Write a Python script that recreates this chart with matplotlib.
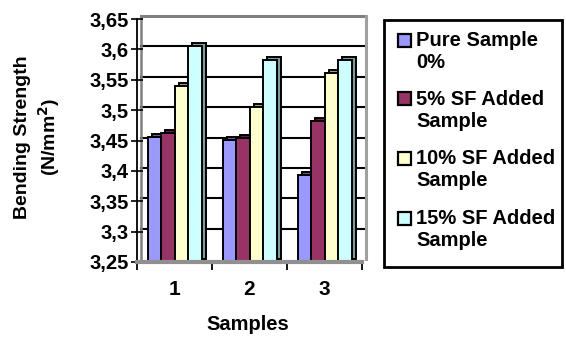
import matplotlib
matplotlib.use("Agg")
import matplotlib.pyplot as plt
import matplotlib.transforms as mtransforms
from matplotlib.patches import Rectangle
from matplotlib.colors import to_rgb
import numpy as np

# ---- data -------------------------------------------------------------
categories = ["1", "2", "3"]
series_labels = ["Pure Sample\n0%", "5% SF Added\nSample",
                 "10% SF Added\nSample", "15% SF Added\nSample"]
pure_0 = [3.455, 3.451, 3.393]
sf_5 = [3.463, 3.454, 3.482]
sf_10 = [3.539, 3.505, 3.561]
sf_15 = [3.605, 3.582, 3.582]
series_values = [pure_0, sf_5, sf_10, sf_15]
y_ticks = [3.25, 3.30, 3.35, 3.40, 3.45, 3.50, 3.55, 3.60, 3.65]
y_tick_labels = ["3,25", "3,3", "3,35", "3,4", "3,45", "3,5", "3,55", "3,6", "3,65"]

colors = ["#9999FF", "#993366", "#FFFFCC", "#CCFFFF"]

W, H = 566, 345
DPI = 100
plt.rcParams["font.family"] = ["Liberation Sans", "DejaVu Sans"]
plt.rcParams["font.weight"] = "bold"

fig = plt.figure(figsize=(W / DPI, H / DPI), dpi=DPI)


def px(x, y):
    """pixel position (top-left origin) -> figure fraction"""
    return x / W, 1 - y / H


# plot area: front axis from x=137 to 362, y=262 (3.25) to 19 (3.65)
ax_l, ax_r, ax_t, ax_b = 137, 362, 19, 262
ax = fig.add_axes([ax_l / W, 1 - ax_b / H, (ax_r - ax_l) / W, (ax_b - ax_t) / H])
ax.set_ylim(3.25, 3.65)
ax.set_xlim(-0.5, len(categories) - 0.5)

# back wall gridlines, shifted slightly up/right for depth
depth = mtransforms.ScaledTranslation(4 / DPI, 3 / DPI, fig.dpi_scale_trans)
for v in y_ticks[1:-1]:
    ax.plot([-0.5, 2.5], [v, v], color="black", lw=1.5,
            transform=ax.transData + depth, clip_on=False, zorder=1)
# wall edges
ax.plot([-0.5, -0.5], [3.25, 3.65], color="#808080", lw=1.8,
        transform=ax.transData + depth, clip_on=False, zorder=1)
ax.plot([-0.5, 2.5], [3.65, 3.65], color="#808080", lw=2.2,
        transform=ax.transData + depth, clip_on=False, zorder=1)
ax.plot([2.5, 2.5], [3.25, 3.65], color="#A0A0A0", lw=2.2,
        transform=ax.transData + depth, clip_on=False, zorder=1)

# bars with a darker offset copy for the side / top faces
x = np.arange(len(categories))
bw = 0.18
for i, (vals, c) in enumerate(zip(series_values, colors)):
    pos = x + (i - 1.5) * bw
    heights = np.array(vals) - 3.25
    dark = tuple(np.array(to_rgb(c)) * 0.62)
    ax.bar(pos, heights, bw, bottom=3.25, color=dark, edgecolor="black",
           linewidth=1.4, transform=ax.transData + depth, zorder=2 + i * 2,
           clip_on=False)
    ax.bar(pos, heights, bw, bottom=3.25, color=c, edgecolor="black",
           linewidth=1.4, zorder=3 + i * 2, clip_on=False)

# spines
for s in ["top", "right"]:
    ax.spines[s].set_visible(False)
ax.spines["left"].set_color("black")
ax.spines["left"].set_linewidth(1.3)
ax.spines["bottom"].set_color("#909090")
ax.spines["bottom"].set_linewidth(3)
ax.spines["bottom"].set_zorder(20)

# y axis
ax.set_yticks(y_ticks)
ax.set_yticklabels(y_tick_labels, fontsize=14.5, fontweight="bold")
ax.tick_params(axis="y", direction="inout", length=8, width=1.2, pad=2)

# x axis: labels at category centers, tick marks at boundaries
ax.set_xticks(x)
ax.set_xticklabels(categories, fontsize=15, fontweight="bold")
ax.set_xticks(np.arange(-0.5, len(categories), 1.0), minor=True)
ax.tick_params(axis="x", which="major", length=0, pad=13)
ax.tick_params(axis="x", which="minor", length=6, width=1.3, direction="out")

# axis titles
fig.text(*px(248, 325), "Samples", ha="center", va="center",
         fontsize=14.5, fontweight="bold")
fig.text(*px(38, 137), "Bending Strength\n(N/mm$^2$)", ha="center",
         va="center", rotation=90, fontsize=14, fontweight="bold",
         linespacing=1.3)

# legend box
lx0, ly0, lx1, ly1 = 384, 20, 562, 267
fig.patches.append(Rectangle(px(lx0, ly1), (lx1 - lx0) / W, (ly1 - ly0) / H,
                             transform=fig.transFigure, facecolor="white",
                             edgecolor="black", linewidth=2))
entry_y = [40, 99, 158, 218]
for lab, c, ey in zip(series_labels, colors, entry_y):
    fig.patches.append(Rectangle(px(398, ey + 6.5), 13 / W, 13 / H,
                                 transform=fig.transFigure, facecolor=c,
                                 edgecolor="black", linewidth=1.6))
    fig.text(*px(416, ey - 9), lab, ha="left", va="top", fontsize=14.5,
             fontweight="bold", linespacing=1.2)

fig.savefig("out.png", dpi=DPI)
